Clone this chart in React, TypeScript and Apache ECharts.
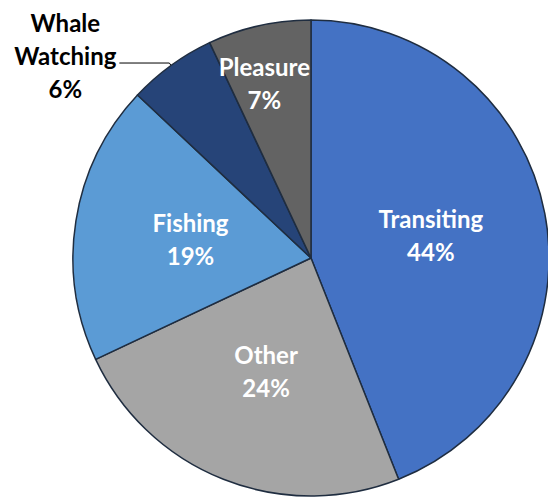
import React, { useEffect, useRef } from "react";
import * as echarts from "echarts";

const categories = ["Transiting", "Other", "Fishing", "Whale Watching", "Pleasure"];
const shares = [44, 24, 19, 6, 7];
const colors = ["#4472C4", "#A5A5A5", "#5B9BD5", "#264478", "#636363"];

const FONT = "Lato";
const FS = 24;
const LH = 33;

export default function App() {
  const ref = useRef<HTMLDivElement>(null);
  useEffect(() => {
    if (!ref.current) return;
    const chart = echarts.init(ref.current, null, { renderer: "svg" });
    const data = categories.map((name, i) => {
      const outside = name === "Whale Watching";
      return {
        name,
        value: shares[i],
        itemStyle: { color: colors[i] },
        label: outside
          ? {
              position: "outside",
              color: "#000",
              formatter: () => `{c|Whale}\n{c|Watching}\n{c|${shares[i]}%}`,
              rich: {
                c: { align: "center", fontFamily: FONT, fontWeight: "bold", fontSize: FS, lineHeight: LH, color: "#000" },
              },
              distanceToLabelLine: 3,
            }
          : { position: "inside" },
        labelLine: outside
          ? { show: true, length: 3, length2: 50, lineStyle: { color: "#000", width: 1 } }
          : { show: false },
      };
    });
    chart.setOption({
      animation: false,
      series: [
        {
          type: "pie",
          center: [311, 258],
          radius: 238,
          startAngle: 90,
          clockwise: true,
          avoidLabelOverlap: false,
          itemStyle: { borderColor: "#1F2D40", borderWidth: 1.5 },
          label: {
            show: true,
            color: "#fff",
            fontFamily: FONT,
            fontWeight: "bold",
            fontSize: FS,
            lineHeight: LH,
            formatter: (p: any) => `${p.name}\n${p.value}%`,
          },
          labelLayout: (p: any) => {
            if (p.dataIndex === 4) return { dx: -20, dy: -56 };
            if (p.dataIndex === 3) return { dy: -8 };
            return {};
          },
          emphasis: { disabled: true },
          data,
        },
      ],
    });
    return () => chart.dispose();
  }, []);
  return (
    <div
      ref={ref}
      style={{ position: "fixed", left: 0, top: 0, width: 548, height: 497, background: "#fff" }}
    />
  );
}
